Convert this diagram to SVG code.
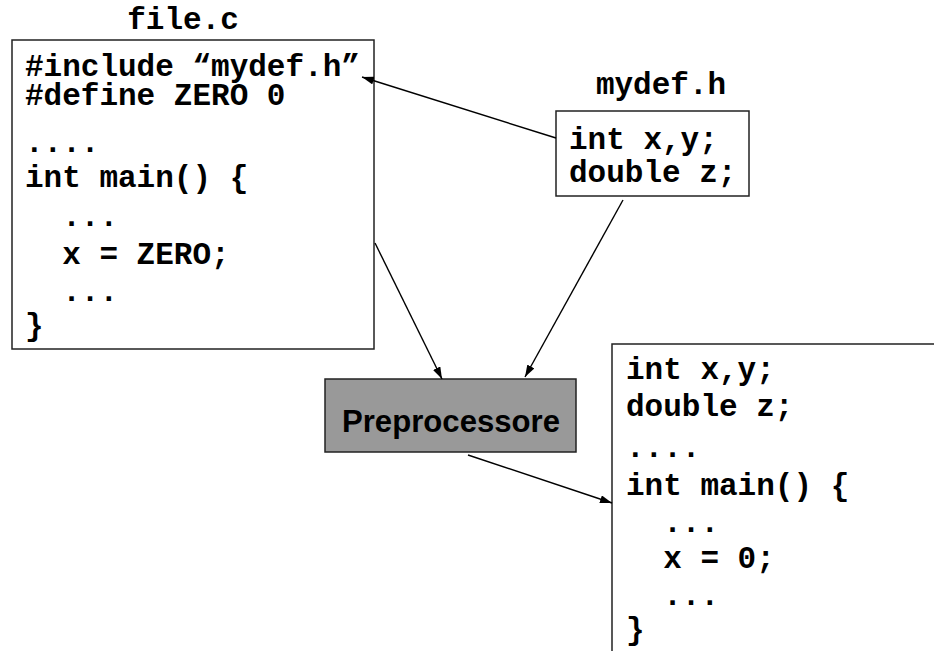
<svg xmlns="http://www.w3.org/2000/svg" width="934" height="651" viewBox="0 0 934 651">
<defs>
<marker id="arr" viewBox="0 0 12 8" refX="12" refY="4" markerWidth="12" markerHeight="8" markerUnits="userSpaceOnUse" orient="auto">
<path d="M0,0 L12,4 L0,8 Z" fill="#000"/>
</marker>
<style>
.code{font-family:"Courier New","Nimbus Mono PS","FreeMono","Liberation Mono",monospace;font-weight:bold;font-size:31px;fill:#000;white-space:pre}
.box{fill:#fff;stroke:#222;stroke-width:1.5}
.conn line{stroke:#000;stroke-width:1.4;marker-end:url(#arr)}
</style>
</defs>
<rect width="934" height="651" fill="#fff"/>
<g id="file_c">
<text class="code" x="183" y="29" text-anchor="middle">file.c</text>
<rect class="box" x="12" y="40" width="362" height="309"/>
<text class="code" x="25" y="76">#include “mydef.h”</text>
<text class="code" x="25" y="105">#define ZERO 0</text>
<text class="code" x="25" y="152">....</text>
<text class="code" x="25" y="187">int main() {</text>
<text class="code" x="25" y="226" xml:space="preserve">  ...</text>
<text class="code" x="25" y="264" xml:space="preserve">  x = ZERO;</text>
<text class="code" x="25" y="301" xml:space="preserve">  ...</text>
<text class="code" x="25" y="335">}</text>
</g>
<g id="mydef_h">
<text class="code" x="661" y="94" text-anchor="middle">mydef.h</text>
<rect class="box" x="556" y="111" width="193" height="85"/>
<text class="code" x="569" y="149">int x,y;</text>
<text class="code" x="569" y="182">double z;</text>
</g>
<g id="preprocessore">
<rect x="325" y="379" width="251" height="73" fill="#999999" stroke="#222" stroke-width="1.5"/>
<text x="451" y="432" text-anchor="middle" font-family="'Liberation Sans',Arial,sans-serif" font-weight="bold" font-size="32" textLength="218" lengthAdjust="spacingAndGlyphs" fill="#000">Preprocessore</text>
</g>
<g id="output">
<rect class="box" x="612" y="344" width="350" height="330"/>
<text class="code" x="626" y="379">int x,y;</text>
<text class="code" x="626" y="416">double z;</text>
<text class="code" x="626" y="457">....</text>
<text class="code" x="626" y="495">int main() {</text>
<text class="code" x="626" y="532" xml:space="preserve">  ...</text>
<text class="code" x="626" y="568" xml:space="preserve">  x = 0;</text>
<text class="code" x="626" y="605" xml:space="preserve">  ...</text>
<text class="code" x="626" y="639">}</text>
</g>
<g id="connectors" class="conn">
<line x1="556" y1="138" x2="362" y2="77"/>
<line x1="375" y1="243" x2="442" y2="379"/>
<line x1="623" y1="200" x2="525" y2="377"/>
<line x1="468" y1="455" x2="612" y2="503"/>
</g>
</svg>
